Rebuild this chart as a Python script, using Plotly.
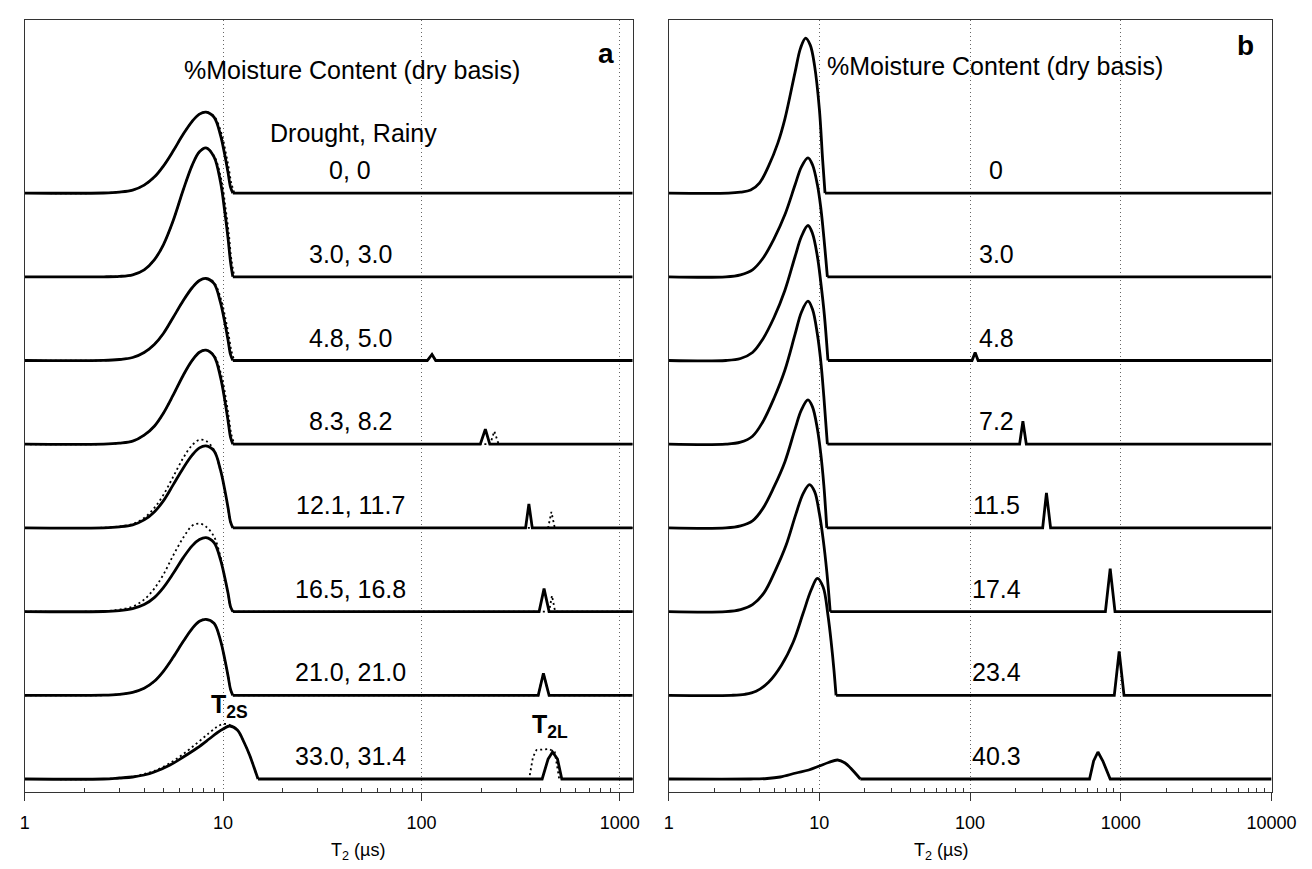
import plotly.graph_objects as go

# ---------------- data (T2 in microseconds, amplitude in a.u.) ----------------
ROW_LABELS_A = ["0, 0", "3.0, 3.0", "4.8, 5.0", "8.3, 8.2", "12.1, 11.7", "16.5, 16.8", "21.0, 21.0", "33.0, 31.4"]
ROW_LABELS_B = ["0", "3.0", "4.8", "7.2", "11.5", "17.4", "23.4", "40.3"]

# T2 sampling points of the short-T2 (T2S) peak, panel a
GA = [1, 2.5, 3.0, 3.5, 4.0, 4.5, 5.0, 5.6, 6.3, 7.0, 7.6, 8.2, 9.0, 9.7, 10.2, 10.6, 10.9, 11.2]
GA_D = [1, 2.5, 3.0, 3.5, 4.0, 4.5, 5.0, 5.6, 6.3, 7.0, 7.6, 8.2, 9.0, 9.8, 10.3, 10.7, 11.0, 11.4]
GA7 = [1, 2.5, 3.0, 3.5, 4.0, 4.5, 5.4, 6.3, 7.4, 8.5, 9.3, 10.0, 10.8, 11.8, 12.8, 13.6, 14.3, 15.0]

# Panel a, drought (solid): T2S peak
A_PEAK_X = [GA, GA, GA, GA, GA, GA, GA, GA7]
A_PEAK_Y = [
    [0, 0.1, 1, 3, 8, 16, 27, 42, 59, 72, 79, 81, 76, 58, 38, 20, 6, 0],
    [0, 0, 0.4, 2, 7, 17, 32, 56, 87, 112, 125, 129, 120, 95, 65, 38, 15, 0],
    [0, 0.1, 1, 3, 8, 16, 27, 43, 60, 73, 80, 82, 77, 58, 38, 20, 6, 0],
    [0, 0.1, 1, 3, 9, 18, 31, 49, 69, 84, 92, 94, 88, 67, 44, 23, 7, 0],
    [0, 0.1, 1, 3, 8, 16, 27, 43, 60, 73, 80, 82, 77, 58, 38, 20, 6, 0],
    [0, 0.1, 1, 3, 7, 14, 24, 38, 54, 66, 72, 74, 69, 52, 34, 18, 5, 0],
    [0, 0.1, 1, 3, 7, 14, 24, 38, 54, 67, 74, 76, 72, 55, 36, 19, 6, 0],
    [0, 0, 1, 2, 4, 7, 14, 22, 31, 40, 46, 50, 53, 49, 36, 24, 12, 0],
]
# Panel a, drought (solid): baseline and T2L peak
A_TAIL_X = [
    [11.2, 1200],
    [11.2, 1200],
    [11.2, 107, 113, 118, 1200],
    [11.2, 198, 210, 221, 1200],
    [11.2, 335, 348, 362, 1200],
    [11.2, 392, 415, 440, 1200],
    [11.2, 388, 412, 440, 1200],
    [15.0, 406, 435, 458, 485, 510, 1200],
]
A_TAIL_Y = [
    [0, 0],
    [0, 0],
    [0, 0, 6, 0, 0],
    [0, 0, 15, 0, 0],
    [0, 0, 24, 0, 0],
    [0, 0, 23, 0, 0],
    [0, 0, 22, 0, 0],
    [0, 0, 20, 27, 20, 0, 0],
]

# Panel a, rainy (dotted)
A_DPEAK_X = [GA_D, GA_D, GA_D, GA_D, GA, GA, GA, GA7]
A_DPEAK_Y = [
    [0, 0.1, 1, 3, 8, 16, 27, 42, 59, 72, 79, 81, 77, 60, 41, 24, 10, 0],
    [0, 0, 0.4, 2, 7, 17, 32, 56, 87, 112, 125, 129, 121, 97, 68, 42, 18, 0],
    [0, 0.1, 1, 3, 8, 16, 27, 43, 60, 73, 80, 82, 78, 60, 41, 24, 10, 0],
    [0, 0.1, 1, 3, 9, 18, 31, 49, 69, 84, 92, 94, 89, 69, 47, 26, 10, 0],
    [0, 0.2, 1.5, 4, 10, 20, 33, 51, 70, 83, 88, 87, 78, 57, 36, 19, 6, 0],
    [0, 0.3, 2, 5, 12, 23, 37, 56, 74, 86, 88, 85, 75, 55, 35, 18, 5, 0],
    [0, 0.1, 1, 3, 7, 14, 24, 38, 54, 67, 74, 76, 72, 55, 36, 19, 6, 0],
    [0, 0, 1, 2.5, 5, 8, 16, 25, 36, 46, 52, 55, 54, 49, 36, 24, 12, 0],
]
A_DTAIL_X = [
    [11.4, 1200],
    [11.4, 1200],
    [11.4, 107, 113, 118, 1200],
    [11.4, 222, 233, 245, 1200],
    [11.2, 435, 452, 470, 1200],
    [11.2, 440, 455, 472, 1200],
    [11.2, 388, 412, 440, 1200],
    [15.0, 349, 365, 380, 440, 470, 495, 1200],
]
A_DTAIL_Y = [
    [0, 0],
    [0, 0],
    [0, 0, 6, 0, 0],
    [0, 0, 13, 0, 0],
    [0, 0, 16, 0, 0],
    [0, 0, 16, 0, 0],
    [0, 0, 22, 0, 0],
    [0, 0, 22, 29, 30, 27, 0, 0],
]

# Panel b (solid): T2S peak
B_PEAK_X = [
    [1, 2.5, 3.0, 3.5, 4.0, 4.6, 5.3, 5.9, 6.9, 7.5, 8.1, 8.7, 9.3, 10.0, 10.5, 10.9],
    [1, 2.4, 3.0, 3.6, 4.2, 5.0, 5.9, 6.9, 7.6, 8.4, 9.0, 9.7, 10.2, 10.7, 11.3],
    [1, 2.4, 3.0, 3.6, 4.2, 5.0, 5.9, 6.9, 7.6, 8.4, 9.0, 9.7, 10.2, 10.8, 11.4],
    [1, 2.4, 3.0, 3.6, 4.2, 5.0, 5.9, 6.9, 7.6, 8.4, 9.0, 9.7, 10.2, 10.7, 11.3],
    [1, 2.4, 3.0, 3.6, 4.2, 5.0, 5.9, 6.9, 7.6, 8.4, 9.0, 9.7, 10.2, 10.7, 11.2],
    [1, 2.4, 3.0, 3.6, 4.3, 5.1, 6.0, 7.0, 7.8, 8.6, 9.3, 10.0, 10.6, 11.2, 11.8],
    [1, 2.6, 3.2, 3.8, 4.6, 5.6, 6.7, 7.8, 8.8, 9.7, 10.6, 11.4, 12.0, 12.5, 12.9],
    [1, 3.5, 4.5, 5.5, 7.0, 8.5, 10.0, 11.5, 13.2, 14.8, 16.1, 17.5, 18.7],
]
B_PEAK_Y = [
    [0, 0, 1, 3, 10, 27, 50, 74, 121, 145, 155, 148, 127, 84, 34, 0],
    [0, 0, 2, 7, 18, 38, 62, 92, 110, 119, 112, 92, 70, 40, 0],
    [0, 0, 2, 8, 21, 43, 70, 104, 124, 135, 127, 104, 79, 45, 0],
    [0, 0, 2, 8, 22, 46, 74, 110, 132, 143, 135, 110, 84, 48, 0],
    [0, 0, 2, 7, 19, 41, 66, 99, 118, 128, 121, 99, 75, 43, 0],
    [0, 0, 2, 7, 19, 41, 66, 98, 118, 127, 120, 98, 72, 40, 0],
    [0, 0, 1, 4, 13, 30, 53, 82, 105, 117, 108, 80, 52, 25, 0],
    [0, 0, 0.5, 2, 6, 9, 13, 16.5, 19, 16, 11, 5, 0],
]
# Panel b (solid): baseline and T2L peak
B_TAIL_X = [
    [10.9, 10000],
    [11.3, 10000],
    [11.4, 103, 108, 113, 10000],
    [11.3, 213, 224, 236, 10000],
    [11.2, 303, 321, 342, 10000],
    [11.8, 790, 850, 915, 10000],
    [12.9, 905, 975, 1050, 10000],
    [18.7, 620, 660, 705, 760, 850, 10000],
]
B_TAIL_Y = [
    [0, 0],
    [0, 0],
    [0, 0, 8, 0, 0],
    [0, 0, 23, 0, 0],
    [0, 0, 35, 0, 0],
    [0, 0, 43, 0, 0],
    [0, 0, 44, 0, 0],
    [0, 0, 18, 27, 18, 0, 0],
]

X_TICKS_A = [1, 10, 100, 1000]
X_TICKS_B = [1, 10, 100, 1000, 10000]

# ---------------- styling / layout ----------------
W, H = 1312, 869
ROW_GAP = 83.7          # vertical offset between stacked spectra
FONT = "Liberation Sans, Arial, sans-serif"
INK = "#000000"
AXC = "#333333"


def px_x(p):
    return p / W


def px_y(p):
    return 1 - p / H


A_DOM = [px_x(12), px_x(634)]
B_DOM = [px_x(671), px_x(1288)]
Y_DOM = [px_y(784), px_y(12)]
A_RANGE = [0, 3.064]
B_RANGE = [0, 4]
Y_RANGE = [-13, 759]

SOLID_PEAK = dict(color=INK, width=2.8, shape="spline", smoothing=1.0)
SOLID_TAIL = dict(color=INK, width=2.8, shape="linear")
DOT_PEAK = dict(color=INK, width=1.8, dash="2px,3px", shape="spline", smoothing=1.0)
DOT_TAIL = dict(color=INK, width=1.8, dash="2px,3px", shape="linear")

fig = go.Figure()


def add(xs, ys, off, line, xa, ya):
    fig.add_trace(go.Scatter(
        x=xs, y=[v + off for v in ys], mode="lines", line=line,
        xaxis=xa, yaxis=ya, showlegend=False, hoverinfo="skip"))


n = len(ROW_LABELS_A)
for i in range(n):
    off = (n - 1 - i) * ROW_GAP
    add(A_DPEAK_X[i], A_DPEAK_Y[i], off, DOT_PEAK, "x", "y")
    add(A_DTAIL_X[i], A_DTAIL_Y[i], off, DOT_TAIL, "x", "y")
    add(A_PEAK_X[i], A_PEAK_Y[i], off, SOLID_PEAK, "x", "y")
    add(A_TAIL_X[i], A_TAIL_Y[i], off, SOLID_TAIL, "x", "y")
    add(B_PEAK_X[i], B_PEAK_Y[i], off, SOLID_PEAK, "x2", "y2")
    add(B_TAIL_X[i], B_TAIL_Y[i], off, SOLID_TAIL, "x2", "y2")


def minor_vals(maxdec):
    vals = []
    for d in range(maxdec):
        for k in range(2, 10):
            vals.append(k * 10 ** d)
    return vals


def xaxis(dom, rng, ticks, anchor, maxdec):
    return dict(
        type="log", domain=dom, range=rng, anchor=anchor,
        tickmode="array", tickvals=ticks, ticktext=[str(t) for t in ticks],
        ticks="outside", ticklen=8, tickwidth=1, tickcolor=AXC,
        ticklabelstandoff=6,
        tickfont=dict(family=FONT, size=18, color=INK),
        showline=True, linecolor=AXC, linewidth=1, mirror=True,
        showgrid=True, gridcolor="#666666", griddash="1px,3px", gridwidth=1,
        zeroline=False,
        minor=dict(tickmode="array", tickvals=minor_vals(maxdec), ticks="inside",
                   ticklen=4, tickwidth=1, tickcolor=AXC, showgrid=False),
    )


def yaxis(anchor):
    return dict(domain=Y_DOM, range=Y_RANGE, anchor=anchor, showticklabels=False,
                ticks="", showline=True, linecolor=AXC, linewidth=1, mirror=True,
                showgrid=False, zeroline=False)


ann = []
big = dict(family=FONT, size=25, color=INK)
for i in range(n):
    off = (n - 1 - i) * ROW_GAP
    ann.append(dict(x=1.640, y=off + 23, xref="x", yref="y", text=ROW_LABELS_A[i],
                    showarrow=False, font=big, yanchor="middle"))
    ann.append(dict(x=2.172, y=off + 23, xref="x2", yref="y2", text=ROW_LABELS_B[i],
                    showarrow=False, font=big, yanchor="middle"))

ann += [
    dict(x=1.650, y=709, xref="x", yref="y", text="%Moisture Content (dry basis)",
         showarrow=False, font=big),
    dict(x=1.655, y=646, xref="x", yref="y", text="Drought, Rainy",
         showarrow=False, font=big),
    dict(x=2.931, y=726, xref="x", yref="y", text="<b>a</b>",
         showarrow=False, font=dict(family=FONT, size=28, color=INK)),
    dict(x=2.165, y=713, xref="x2", yref="y2", text="%Moisture Content (dry basis)",
         showarrow=False, font=big),
    dict(x=3.83, y=734, xref="x2", yref="y2", text="<b>b</b>",
         showarrow=False, font=dict(family=FONT, size=28, color=INK)),
    dict(x=1.034, y=73, xref="x", yref="y", text="<b>T<sub>2S</sub></b>",
         showarrow=False, font=dict(family=FONT, size=25, color=INK)),
    dict(x=2.65, y=53, xref="x", yref="y", text="<b>T<sub>2L</sub></b>",
         showarrow=False, font=dict(family=FONT, size=25, color=INK)),
    dict(x=(A_DOM[0] + A_DOM[1]) / 2, y=px_y(857), xref="paper", yref="paper",
         text="T<sub>2</sub> (µs)", showarrow=False,
         font=dict(family=FONT, size=18, color=INK)),
    dict(x=(B_DOM[0] + B_DOM[1]) / 2, y=px_y(857), xref="paper", yref="paper",
         text="T<sub>2</sub> (µs)", showarrow=False,
         font=dict(family=FONT, size=18, color=INK)),
]

fig.update_layout(
    width=W, height=H, margin=dict(l=0, r=0, t=0, b=0),
    paper_bgcolor="white", plot_bgcolor="white",
    xaxis=xaxis(A_DOM, A_RANGE, X_TICKS_A, "y", 4),
    yaxis=yaxis("x"),
    xaxis2=xaxis(B_DOM, B_RANGE, X_TICKS_B, "y2", 4),
    yaxis2=yaxis("x2"),
    annotations=ann,
    font=dict(family=FONT),
)

fig.write_html("out.html")
